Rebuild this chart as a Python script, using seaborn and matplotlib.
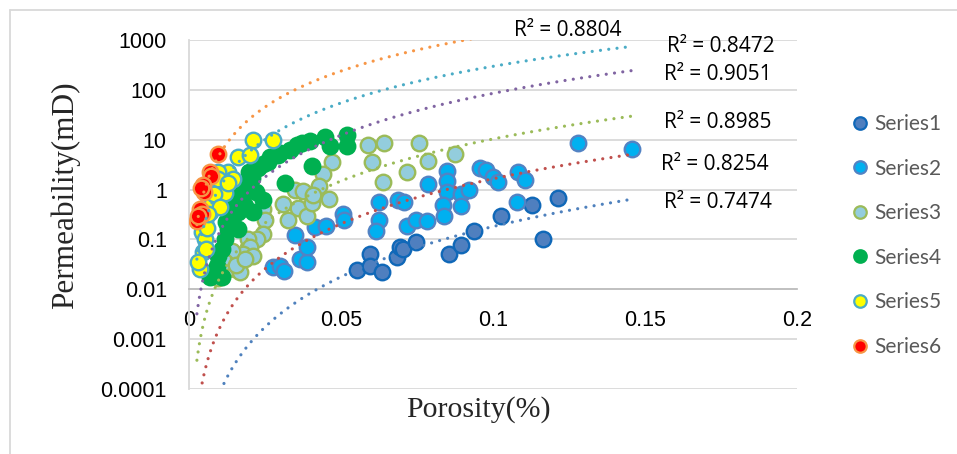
import numpy as np
import pandas as pd
import seaborn as sns
import matplotlib.pyplot as plt
from matplotlib.lines import Line2D

# ---- data ----
s1_x = [0.0553, 0.0595, 0.0595, 0.0635, 0.0684, 0.0694, 0.0704, 0.0747, 0.0855, 0.0895,
        0.0938, 0.1026, 0.1128, 0.1214, 0.1164]
s1_y = [0.024, 0.050, 0.029, 0.022, 0.044, 0.072, 0.063, 0.087, 0.050, 0.079,
        0.145, 0.30, 0.48, 0.69, 0.10]

s2_x = [0.0276, 0.0299, 0.0313, 0.0349, 0.0365, 0.0388, 0.0388, 0.0414, 0.0451, 0.0507,
        0.0510, 0.0625, 0.0625, 0.0615, 0.0688, 0.0707, 0.0717, 0.0747, 0.0783, 0.0786,
        0.0849, 0.0849, 0.0849, 0.0836, 0.0839, 0.0895, 0.0895, 0.0921, 0.0957, 0.0977,
        0.1000, 0.1016, 0.1082, 0.1105, 0.1079, 0.1280, 0.1457]
s2_y = [0.0275, 0.029, 0.023, 0.12, 0.040, 0.035, 0.069, 0.174, 0.19, 0.32,
        0.25, 0.575, 0.25, 0.145, 0.63, 0.575, 0.19, 0.25, 0.23, 1.32,
        2.4, 1.51, 0.91, 0.48, 0.29, 0.83, 0.46, 1.0, 2.75, 2.5,
        1.82, 1.45, 2.2, 1.58, 0.575, 8.7, 6.6]

s3_x = [0.0589, 0.0641, 0.0757, 0.0602, 0.0638, 0.0717, 0.0786, 0.0875, 0.0470, 0.0441,
        0.0428, 0.0349, 0.0375, 0.0309, 0.0359, 0.0388, 0.0326, 0.0405, 0.0408, 0.0461,
        0.0243, 0.0250, 0.0243, 0.0224, 0.0194, 0.0201, 0.0178, 0.0161, 0.0141, 0.0128,
        0.0109, 0.0151, 0.0118, 0.0095, 0.0168, 0.0211, 0.0155, 0.0185]
s3_y = [7.9, 8.7, 8.7, 3.5, 1.45, 2.2, 3.8, 5.2, 3.6, 2.1,
        1.2, 1.0, 0.95, 0.52, 0.42, 0.29, 0.25, 0.55, 0.79, 0.66,
        0.40, 0.25, 0.126, 0.10, 0.10, 0.072, 0.05, 0.036, 0.058, 0.025,
        0.022, 0.025, 0.035, 0.017, 0.022, 0.046, 0.03, 0.04]

s4_x = [0.0299, 0.0355, 0.0398, 0.0447, 0.0464, 0.0520, 0.0520, 0.0405, 0.0316, 0.0266,
        0.0293, 0.0260, 0.0227, 0.0207, 0.0178, 0.0178, 0.0184, 0.0211, 0.0243, 0.0161,
        0.0141, 0.0128, 0.0118, 0.0109, 0.0095, 0.0092, 0.0079, 0.0069, 0.0109, 0.0168,
        0.0158, 0.0332, 0.0243, 0.0372, 0.0161, 0.0150, 0.0135, 0.0122, 0.0196, 0.0220]
s4_y = [5.5, 7.9, 9.5, 11.5, 7.6, 12.6, 7.6, 3.0, 1.38, 4.6,
        5.0, 3.5, 2.75, 1.74, 1.26, 0.79, 0.46, 0.36, 0.63, 0.35,
        0.25, 0.16, 0.10, 0.063, 0.046, 0.029, 0.022, 0.018, 0.018, 0.72,
        1.15, 6.3, 3.2, 8.7, 0.16, 0.5, 0.4, 0.22, 2.2, 0.9]

s5_x = [0.0211, 0.0276, 0.0161, 0.0201, 0.0128, 0.0145, 0.0095, 0.0109, 0.0092, 0.0118,
        0.0069, 0.0053, 0.0043, 0.0053, 0.0046, 0.0036, 0.0095, 0.0128, 0.0076, 0.0059,
        0.0082, 0.0102, 0.0063, 0.0056, 0.0030]
s5_y = [10.0, 9.8, 4.4, 5.0, 2.2, 1.6, 2.2, 1.1, 0.63, 0.87,
        0.35, 0.22, 0.14, 0.10, 0.055, 0.025, 1.6, 1.38, 0.55, 0.17,
        0.8, 0.44, 0.32, 0.063, 0.036]

s6_x = [0.0095, 0.0069, 0.0072, 0.0046, 0.0048, 0.0040, 0.0036, 0.0043, 0.0026, 0.0030]
s6_y = [5.2, 2.2, 1.9, 1.26, 0.91, 1.1, 0.40, 0.33, 0.23, 0.30]

series_names = ['Series1', 'Series2', 'Series3', 'Series4', 'Series5', 'Series6']
# power trendlines y = a * x^b and their R^2
trend_a = [406, 1644, 6530, 52500, 81700, 316000]
trend_b = [3.35, 3.0, 2.8, 2.79, 2.44, 2.4]
r2_labels = ['0.7474', '0.8254', '0.8985', '0.9051', '0.8472', '0.8804']

face_cols = ['#4F7FBF', '#00B0F0', '#93CDDD', '#00B050', '#FFFF00', '#FF0000']
edge_cols = ['#1068B8', '#5283C4', '#9BBB59', '#00B050', '#4BACC6', '#F79646']
trend_cols = ['#4F81BD', '#C0504D', '#9BBB59', '#8064A2', '#4BACC6', '#F79646']

xs_all = [s1_x, s2_x, s3_x, s4_x, s5_x, s6_x]
ys_all = [s1_y, s2_y, s3_y, s4_y, s5_y, s6_y]

df = pd.concat([pd.DataFrame({'Porosity': x, 'Permeability': y, 'Series': n})
                for x, y, n in zip(xs_all, ys_all, series_names)], ignore_index=True)

sns.set_style('white')
plt.rcParams['font.family'] = ['Liberation Sans', 'DejaVu Sans']

W, H = 957, 454
fig = plt.figure(figsize=(W / 100, H / 100), dpi=100)
ax = fig.add_axes([189 / W, 1 - 389 / H, (797 - 189) / W, (389 - 40) / H])

# scatter points, one series at a time (later series on top)
for i, name in enumerate(series_names):
    sub = df[df['Series'] == name]
    sns.scatterplot(data=sub, x='Porosity', y='Permeability', ax=ax, s=125,
                    color=face_cols[i], edgecolor=edge_cols[i], linewidth=1.7,
                    label=name, zorder=3 + i, legend=False)

# dotted power trendlines on top of the markers
x_lo, x_hi = df['Porosity'].min(), df['Porosity'].max()
xt = np.geomspace(x_lo, x_hi, 300)
for i in range(6):
    ax.plot(xt, trend_a[i] * xt ** trend_b[i], color=trend_cols[i], lw=2.3,
            linestyle=(0, (0.01, 2.6)), dash_capstyle='round', zorder=20)

ax.set_yscale('log')
ax.set_xlim(0, 0.2)
ax.set_ylim(1e-4, 1e3)
ax.set_yticks([10.0 ** k for k in range(-4, 4)])
ax.set_yticklabels(['{:g}'.format(10.0 ** k) for k in range(-4, 4)])
ax.set_xticks([0, 0.05, 0.1, 0.15, 0.2])
ax.set_xticklabels(['0', '0.05', '0.1', '0.15', '0.2'])
ax.minorticks_off()
ax.yaxis.grid(True, color='#D9D9D9', lw=1.3)
ax.set_axisbelow(True)
ax.set_xlabel('')
ax.set_ylabel('')

# horizontal axis crosses at 0.01
for side in ['top', 'right']:
    ax.spines[side].set_visible(False)
ax.spines['bottom'].set_position(('data', 0.01))
ax.spines['bottom'].set_color('#BFBFBF')
ax.spines['bottom'].set_linewidth(1.3)
ax.spines['left'].set_color('#D9D9D9')
ax.spines['left'].set_linewidth(1.3)
ax.tick_params(axis='both', length=0, labelsize=15.5, labelcolor='#000000')
ax.tick_params(axis='y', pad=16)
ax.tick_params(axis='x', pad=15)

# R^2 labels
r2_pos = [(718, 202), (715, 165), (718, 123), (718, 75), (721, 47), (568, 31)]
for lab, (px, py) in zip(r2_labels, r2_pos):
    fig.text(px / W, 1 - py / H, 'R² = ' + lab, ha='center', va='center',
             fontsize=15, family=['Open Sans', 'DejaVu Sans'], color='#000000')

# axis titles
fig.text(65 / W, 1 - 195 / H, 'Permeability(mD)', rotation=90, ha='center', va='center',
         fontsize=22.5, family='Liberation Serif')
fig.text(478 / W, 1 - 410 / H, 'Porosity(%)', ha='center', va='center',
         fontsize=21.5, family='Liberation Serif')

# legend
handles = [Line2D([], [], marker='o', linestyle='none', markersize=9,
                  markerfacecolor=face_cols[i], markeredgecolor=edge_cols[i],
                  markeredgewidth=1.6) for i in range(6)]
leg = fig.legend(handles, series_names, loc='upper left',
                 bbox_to_anchor=(850 / W, 1 - 114 / H), frameon=False,
                 prop={'family': 'Lato', 'size': 15}, labelspacing=1.18,
                 handlelength=1.0, handletextpad=0.15, borderpad=0, borderaxespad=0)
for t in leg.get_texts():
    t.set_color('#595959')

# chart area border
fig.add_artist(Line2D([10 / W, 10 / W], [0, 1 - 10 / H], color='#D9D9D9', lw=1.3))
fig.add_artist(Line2D([10 / W, 1], [1 - 10 / H, 1 - 10 / H], color='#D9D9D9', lw=1.3))

plt.savefig('out.png', dpi=100)
plt.close()
